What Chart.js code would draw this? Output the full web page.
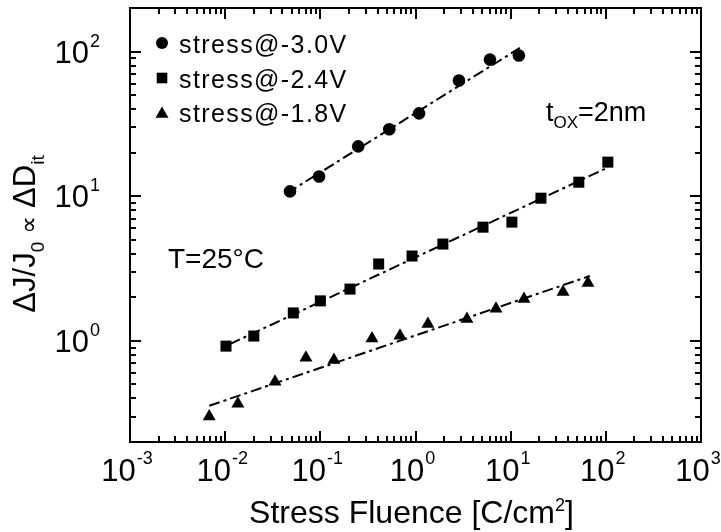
<!DOCTYPE html>
<html><head><meta charset="utf-8">
<script src="https://cdn.jsdelivr.net/npm/chart.js@4/dist/chart.umd.min.js"></script>
<style>html,body{margin:0;padding:0;background:#fff;overflow:hidden}#wrap{width:721px;height:532px;position:relative}</style>
</head><body><div id="wrap"><canvas id="c"></canvas></div>
<script>
// ---- data ----
const seriesLabels = ['stress@-3.0V', 'stress@-2.4V', 'stress@-1.8V'];
const fluence30 = [0.048, 0.097, 0.25, 0.53, 1.09, 2.86, 6.06, 12.2];
const dJ30      = [10.8, 13.7, 22.1, 29.0, 37.4, 63, 88, 94];
const fluence24 = [0.0102, 0.020, 0.052, 0.10, 0.205, 0.41, 0.92, 1.94, 5.12, 10.3, 20.8, 52, 105];
const dJ24      = [0.92, 1.08, 1.56, 1.89, 2.28, 3.40, 3.86, 4.67, 6.11, 6.62, 9.69, 12.5, 17.2];
const fluence18 = [0.0068, 0.0136, 0.0334, 0.0706, 0.139, 0.349, 0.687, 1.35, 3.47, 7.01, 13.8, 35.5, 64.9];
const dJ18      = [0.30, 0.368, 0.521, 0.764, 0.739, 1.04, 1.085, 1.31, 1.415, 1.67, 1.95, 2.18, 2.51];
// fitted power-law lines (end points)
const fitX30 = [0.0447, 12.5], fitY30 = [10.5, 106];
const fitX24 = [0.0112, 105],  fitY24 = [0.95, 15.8];
const fitX18 = [0.0068, 68],   fitY18 = [0.356, 2.81];
// axes
const xMin = 1e-3, xMax = 1e3, yMin = 0.2, yMax = 200;
const xTickExps = [-3, -2, -1, 0, 1, 2, 3];
const yTickExps = [0, 1, 2];
const xTitle = ['Stress Fluence [C/cm', '2', ']'];
const yTitle = ['\u0394J/J', '0', '\u221D', '\u0394D', 'it'];
const tempLabel = 'T=25\u00B0C';
const toxLabel = ['t', 'OX', '=2nm'];

const FONT = '"Liberation Sans", Arial, Helvetica, sans-serif';
const pts = (xs, ys) => xs.map((v, i) => ({x: v, y: ys[i]}));

function drawRich(ctx, parts, x, y, align) {
  let w = 0;
  for (const p of parts) {
    ctx.font = p.size + 'px ' + (p.font || FONT);
    ctx.letterSpacing = p.ls || '0px';
    w += ctx.measureText(p.t).width + (p.gap || 0);
  }
  let cx = align === 'center' ? x - w / 2 : align === 'right' ? x - w : x;
  ctx.textAlign = 'left'; ctx.textBaseline = 'alphabetic';
  for (const p of parts) {
    ctx.font = p.size + 'px ' + (p.font || FONT);
    ctx.letterSpacing = p.ls || '0px';
    ctx.fillText(p.t, cx, y + (p.dy || 0));
    cx += ctx.measureText(p.t).width + (p.gap || 0);
  }
  ctx.letterSpacing = '0px';
}

const decor = {
  id: 'decor',
  afterDraw(chart) {
    const {ctx, chartArea: a, scales: {x, y}} = chart;
    ctx.save();
    ctx.fillStyle = '#000'; ctx.strokeStyle = '#000';
    ctx.lineWidth = 2;
    ctx.strokeRect(a.left, a.top, a.right - a.left, a.bottom - a.top);
    // ticks (inward, mirrored)
    ctx.beginPath();
    for (const e of xTickExps) for (let m = 1; m <= 9; m++) {
      const v = m * Math.pow(10, e);
      if (v < xMin * 0.999 || v > xMax * 1.001) continue;
      const px = Math.round(x.getPixelForValue(v));
      const L = m === 1 ? 11 : 6;
      ctx.moveTo(px, a.bottom); ctx.lineTo(px, a.bottom - L);
      ctx.moveTo(px, a.top); ctx.lineTo(px, a.top + L);
    }
    for (let e = -1; e <= 2; e++) for (let m = 1; m <= 9; m++) {
      const v = m * Math.pow(10, e);
      if (v < yMin * 0.999 || v > yMax * 1.001) continue;
      const py = Math.round(y.getPixelForValue(v));
      const L = m === 1 ? 11 : 6;
      ctx.moveTo(a.left, py); ctx.lineTo(a.left + L, py);
      ctx.moveTo(a.right, py); ctx.lineTo(a.right - L, py);
    }
    ctx.stroke();
    // tick labels
    for (const e of xTickExps) {
      const px = x.getPixelForValue(Math.pow(10, e));
      drawRich(ctx, [{t: '10', size: 31, gap: 1}, {t: String(e), size: 18, dy: -17}], px - 3, a.bottom + 39, 'center');
    }
    for (const e of yTickExps) {
      const py = y.getPixelForValue(Math.pow(10, e));
      drawRich(ctx, [{t: '10', size: 31, gap: 1}, {t: String(e), size: 18, dy: -16}], a.left - 30, py + 11, 'right');
    }
    // axis titles
    drawRich(ctx, [{t: xTitle[0], size: 32}, {t: xTitle[1], size: 18, dy: -12}, {t: xTitle[2], size: 32}],
      (a.left + a.right) / 2 - 4, 523, 'center');
    ctx.save();
    ctx.translate(35, 234);
    ctx.rotate(-Math.PI / 2);
    drawRich(ctx, [
      {t: yTitle[0], size: 31}, {t: yTitle[1], size: 19, dy: 9, gap: 8},
      {t: yTitle[2], size: 25, dy: 2, font: '"DejaVu Sans", sans-serif', gap: 8},
      {t: yTitle[3], size: 31}, {t: yTitle[4], size: 19, dy: 9}], 0, 0, 'center');
    ctx.restore();
    // legend
    const rows = [43, 78, 112];
    const styles = ['circle', 'rect', 'triangle'];
    const radii = [6, 7.5, 7.5];
    rows.forEach((ry, i) => {
      Chart.helpers.drawPoint(ctx, {pointStyle: styles[i], radius: radii[i], borderWidth: 0, rotation: 0}, 162, ry + (i === 2 ? 2 : 0));
      ctx.fillStyle = '#000';
      drawRich(ctx, [{t: seriesLabels[i], size: 25, ls: '1.4px'}], 179, ry + 9.5, 'left');
    });
    // annotations
    drawRich(ctx, [{t: tempLabel, size: 28}], 168, 268, 'left');
    drawRich(ctx, [{t: toxLabel[0], size: 27}, {t: toxLabel[1], size: 17, dy: 7}, {t: toxLabel[2], size: 27}], 546, 121, 'left');
    ctx.restore();
  }
};

const fitStyle = {showLine: true, borderColor: '#000', borderWidth: 2, borderDash: [11, 4, 3, 4], pointRadius: 0, fill: false, clip: false};
const markStyle = {showLine: false, backgroundColor: '#000', borderColor: '#000', borderWidth: 0, clip: false};

new Chart(document.getElementById('c'), {
  type: 'scatter',
  data: {
    datasets: [
      Object.assign({label: 'fit1', data: pts(fitX30, fitY30)}, fitStyle),
      Object.assign({label: 'fit2', data: pts(fitX24, fitY24)}, fitStyle),
      Object.assign({label: 'fit3', data: pts(fitX18, fitY18)}, fitStyle),
      Object.assign({label: seriesLabels[0], data: pts(fluence30, dJ30), pointStyle: 'circle', pointRadius: 6.3}, markStyle),
      Object.assign({label: seriesLabels[1], data: pts(fluence24, dJ24), pointStyle: 'rect', pointRadius: 7.8}, markStyle),
      Object.assign({label: seriesLabels[2], data: pts(fluence18, dJ18), pointStyle: 'triangle', pointRadius: 7.5}, markStyle)
    ]
  },
  options: {
    responsive: true, maintainAspectRatio: false, animation: false, events: [],
    layout: {padding: {left: 130, top: 8, right: 20, bottom: 90}},
    plugins: {legend: {display: false}, tooltip: {enabled: false}},
    scales: {
      x: {type: 'logarithmic', min: xMin, max: xMax, display: false},
      y: {type: 'logarithmic', min: yMin, max: yMax, display: false}
    }
  },
  plugins: [decor]
});
</script></body></html>
